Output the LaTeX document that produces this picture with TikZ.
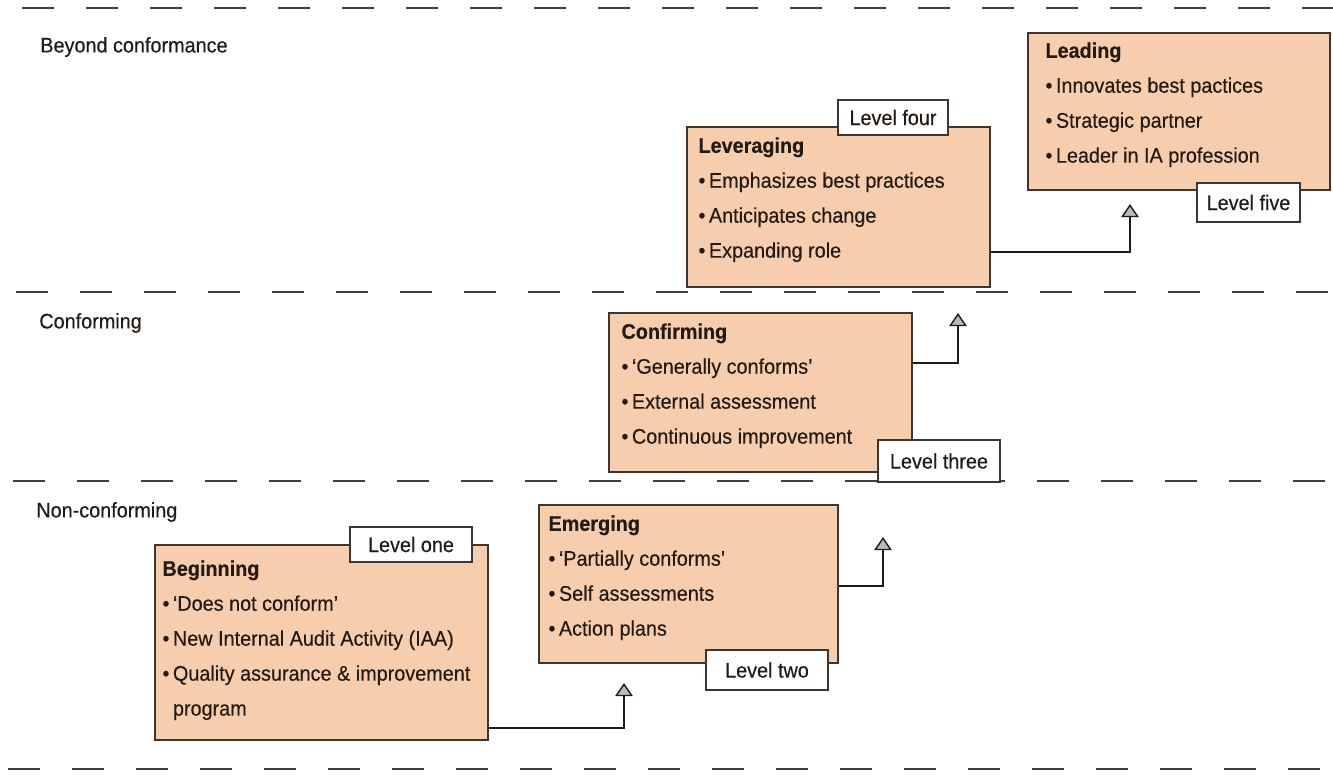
\documentclass[tikz,border=0pt]{standalone}
\usepackage{fontspec}
\setmainfont{Liberation Sans}[FakeStretch=0.94,FakeBold=0.35]
\usetikzlibrary{arrows.meta,positioning}

\definecolor{peach}{HTML}{F6CEAE}
\definecolor{ink}{HTML}{231A14}
\definecolor{rim}{HTML}{3F3530}

\begin{document}
\begin{tikzpicture}[x=0.02cm,y=-0.02cm]

\tikzstyle{stage} = [draw=rim,line width=1pt,fill=peach,inner sep=0pt]
\tikzstyle{tag} = [draw=rim,line width=1pt,fill=white,inner sep=0pt,text=ink,font=\fontsize{12}{14}\selectfont]
\tikzstyle{items} = [inner sep=0pt,align=left,text=ink,font=\fontsize{12}{19.9}\selectfont]
\tikzstyle{band} = [text=ink,anchor=west,inner sep=0pt,font=\fontsize{12}{14}\selectfont]
\tikzstyle{edge} = [draw=ink,line width=1.2pt,-{Triangle[width=10pt,length=7.5pt,fill=gray!55,line width=0.8pt]}]

\useasboundingbox (0,0) rectangle (1333,778);

% zone borders
\foreach \yy/\xs in {8/22,292/16,481/13,769/8}
  \draw[ink!85,line width=1.1pt,dash pattern=on 0.64cm off 0.64cm] (\xs,\yy) -- (1333,\yy);

\node[band] (beyond) at (40,47) {Beyond conformance};
\node[band] (conf) at (39,323) {Conforming};
\node[band] (nonconf) at (36,512) {Non-conforming};

% the five stages
\node[stage,minimum width=6.66cm,minimum height=3.9cm] (beginning) at (321.5,642.5) {};
\node[stage,minimum width=5.98cm,minimum height=3.16cm] (emerging) at (688.5,584) {};
\node[stage,minimum width=6.06cm,minimum height=3.18cm] (confirming) at (760.5,392.5) {};
\node[stage,minimum width=6.06cm,minimum height=3.2cm] (leveraging) at (838.5,207) {};
\node[stage,minimum width=6.04cm,minimum height=3.14cm] (leading) at (1179,111.5) {};

\node[items,below right=0.32cm and 0.16cm of beginning.north west] (beginning-txt)
  {\textbf{Beginning}\\•\,‘Does not conform’\\•\,New Internal Audit Activity (IAA)\\•\,Quality assurance \& improvement\\\phantom{•\,}program};
\node[items,below right=0.22cm and 0.2cm of emerging.north west] (emerging-txt)
  {\textbf{Emerging}\\•\,‘Partially conforms’\\•\,Self assessments\\•\,Action plans};
\node[items,below right=0.22cm and 0.26cm of confirming.north west] (confirming-txt)
  {\textbf{Confirming}\\•\,‘Generally conforms’\\•\,External assessment\\•\,Continuous improvement};
\node[items,below right=0.22cm and 0.24cm of leveraging.north west] (leveraging-txt)
  {\textbf{Leveraging}\\•\,Emphasizes best practices\\•\,Anticipates change\\•\,Expanding role};
\node[items,below right=0.2cm and 0.36cm of leading.north west] (leading-txt)
  {\textbf{Leading}\\•\,Innovates best pactices\\•\,Strategic partner\\•\,Leader in IA profession};

% level tags
\node[tag,minimum width=2.44cm,minimum height=0.7cm] (lvl1) at (411,544.5) {Level one};
\node[tag,minimum width=2.44cm,minimum height=0.8cm] (lvl2) at (767,670) {Level two};
\node[tag,minimum width=2.44cm,minimum height=0.84cm] (lvl3) at (939,461) {Level three};
\node[tag,minimum width=2.2cm,minimum height=0.7cm] (lvl4) at (893,117.5) {Level four};
\node[tag,minimum width=2.06cm,minimum height=0.78cm] (lvl5) at (1248.5,202.5) {Level five};

% step arrows
\coordinate (turn1) at (624,728);
\coordinate (tip1) at (624,683);
\coordinate (turn2) at (883,586);
\coordinate (tip2) at (883,537);
\coordinate (turn3) at (958,363);
\coordinate (tip3) at (958,313);
\coordinate (turn4) at (1130,252);
\coordinate (tip4) at (1130,204);

\draw[edge] (beginning.east |- turn1) -- (turn1) -- (tip1);
\draw[edge] (emerging.east |- turn2) -- (turn2) -- (tip2);
\draw[edge] (confirming.east |- turn3) -- (turn3) -- (tip3);
\draw[edge] (leveraging.east |- turn4) -- (turn4) -- (tip4);

\end{tikzpicture}
\end{document}
